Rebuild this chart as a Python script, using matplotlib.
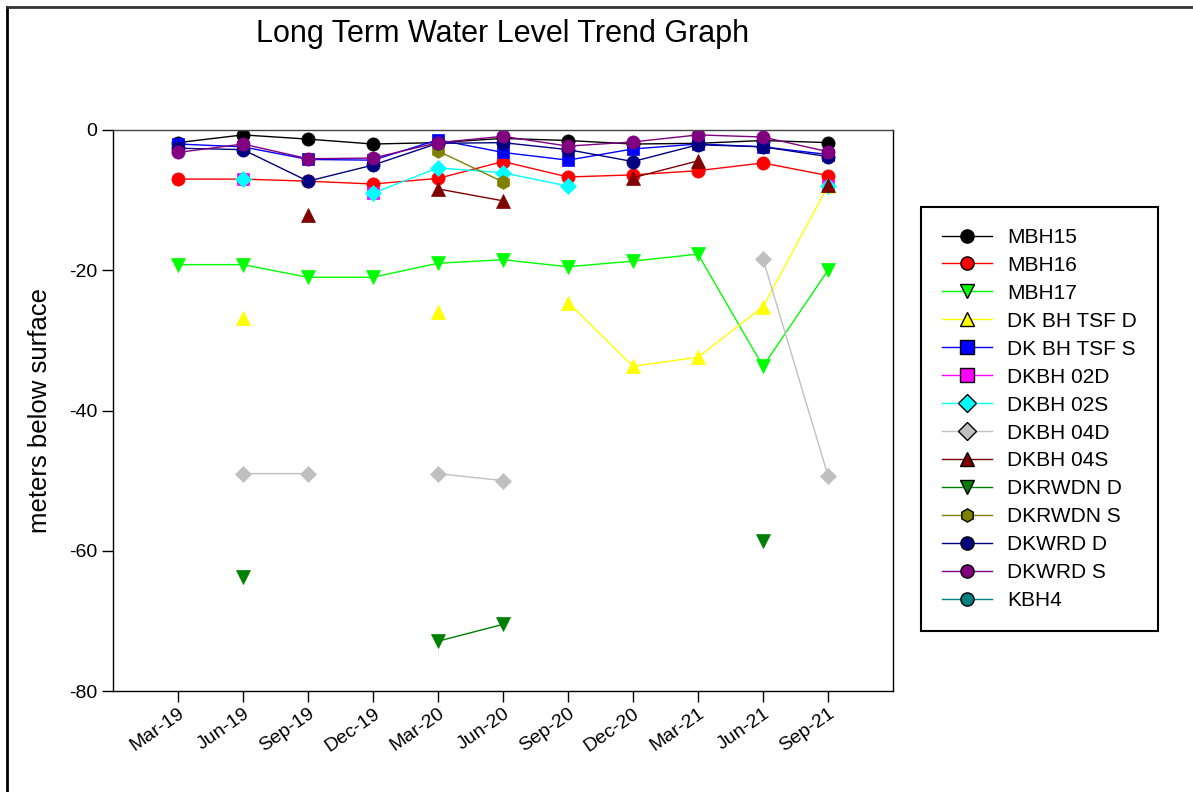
import numpy as np
from matplotlib import pyplot as plt
from matplotlib.lines import Line2D

plt.rcParams['font.family'] = ['Liberation Sans', 'DejaVu Sans']
plt.rcParams['axes.unicode_minus'] = False

nan = np.nan
dates = ['Mar-19', 'Jun-19', 'Sep-19', 'Dec-19', 'Mar-20', 'Jun-20',
         'Sep-20', 'Dec-20', 'Mar-21', 'Jun-21', 'Sep-21']

mbh15 = [-1.8, -0.7, -1.3, -2.0, -1.8, -1.2, -1.5, -2.0, -1.9, -1.5, -1.8]
mbh16 = [-7.0, -7.0, -7.3, -7.7, -6.9, -4.5, -6.7, -6.4, -5.8, -4.7, -6.5]
mbh17 = [-19.2, -19.2, -21.0, -21.0, -19.0, -18.5, -19.5, -18.7, -17.7, -33.7, -20.0]
tsf_d = [nan, -26.8, nan, nan, -26.0, nan, -24.6, -33.7, -32.4, -25.2, -8.0]
tsf_s = [-2.0, -2.4, -4.2, -4.3, -1.4, -3.2, -4.3, -2.7, -2.0, -2.4, -3.5]
dkbh02d = [nan, -7.0, nan, -9.0, nan, nan, nan, nan, nan, nan, -8.0]
dkbh02s = [nan, -7.0, nan, -9.0, -5.4, -6.1, -8.0, nan, nan, nan, -8.0]
dkbh04d = [nan, -49.0, -49.0, nan, -49.0, -50.0, nan, nan, nan, -18.4, -49.3]
dkbh04s = [nan, nan, -12.1, nan, -8.4, -10.1, nan, -6.8, -4.4, nan, -7.9]
dkrwdn_d = [nan, -63.8, nan, nan, -72.9, -70.5, nan, nan, nan, -58.6, nan]
dkrwdn_s = [nan, nan, nan, nan, -3.0, -7.4, nan, nan, nan, nan, nan]
dkwrd_d = [-2.6, -2.8, -7.3, -5.0, -1.9, -1.8, -2.8, -4.5, -2.1, -2.4, -3.8]
dkwrd_s = [-3.2, -2.0, -4.1, -4.0, -1.8, -0.9, -2.3, -1.7, -0.7, -1.0, -3.1]
kbh4 = [nan] * 11

# name, values, colour, marker, size
series = [
    ('MBH15', mbh15, '#000000', 'o', 9.5),
    ('MBH16', mbh16, '#ff0000', 'o', 9.5),
    ('MBH17', mbh17, '#00ff00', 'v', 9.5),
    ('DK BH TSF D', tsf_d, '#ffff00', '^', 9.5),
    ('DK BH TSF S', tsf_s, '#0000ff', 's', 8.5),
    ('DKBH 02D', dkbh02d, '#ff00ff', 's', 8.5),
    ('DKBH 02S', dkbh02s, '#00ffff', 'D', 8),
    ('DKBH 04D', dkbh04d, '#c0c0c0', 'D', 8),
    ('DKBH 04S', dkbh04s, '#800000', '^', 9.5),
    ('DKRWDN D', dkrwdn_d, '#008000', 'v', 9.5),
    ('DKRWDN S', dkrwdn_s, '#808000', 'h', 10),
    ('DKWRD D', dkwrd_d, '#000080', 'o', 9.5),
    ('DKWRD S', dkwrd_s, '#800080', 'o', 9.5),
    ('KBH4', kbh4, '#008080', 'o', 9.5),
]

fig = plt.figure(figsize=(11.93, 7.92), dpi=100)
ax = fig.add_axes([113/1193, 1-691/792, 780/1193, 561/792])

x = np.arange(len(dates))
handles = []
for name, vals, col, mk, ms in series:
    ax.plot(x, vals, color=col, lw=1, marker=mk, markersize=ms,
            markerfacecolor=col, markeredgecolor=col, markeredgewidth=0.5)
    handles.append(Line2D([0], [0], color=col, lw=1, marker=mk, markersize=9.5,
                          markerfacecolor=col, markeredgecolor='black',
                          markeredgewidth=1))

ax.set_xlim(-1, 11)
ax.set_ylim(-80, 0)
ax.set_xticks(x)
ax.set_xticklabels(dates, rotation=35, ha='right', va='top',
                   rotation_mode='anchor', fontsize=14)
ax.set_yticks([0, -20, -40, -60, -80])
ax.tick_params(axis='both', length=8, width=1, labelsize=14)
ax.tick_params(axis='x', pad=2)
ax.set_ylabel('meters below surface', fontsize=18.5, labelpad=12)
for s in ax.spines.values():
    s.set_linewidth(1)
ax.spines['top'].set_color('#444444')

fig.text(503/1193, 1-34/792, 'Long Term Water Level Trend Graph',
         ha='center', va='center', fontsize=22)

leg = fig.legend(handles, [s[0] for s in series], loc='upper left',
                 bbox_to_anchor=(921/1193, 1-207/792), borderaxespad=0,
                 fontsize=15, handlelength=2.4, labelspacing=0.43,
                 borderpad=1.0, handletextpad=0.75, fancybox=False,
                 framealpha=1, edgecolor='black')
leg.get_frame().set_linewidth(1.5)

# page frame
fig.add_artist(Line2D([7/1193, 7/1193], [0, 1-7/792], color='black', lw=2,
                      transform=fig.transFigure))
fig.add_artist(Line2D([7/1193, 1], [1-7/792, 1-7/792], color='#333333', lw=2,
                      transform=fig.transFigure))

fig.savefig('out.png', dpi=100)
